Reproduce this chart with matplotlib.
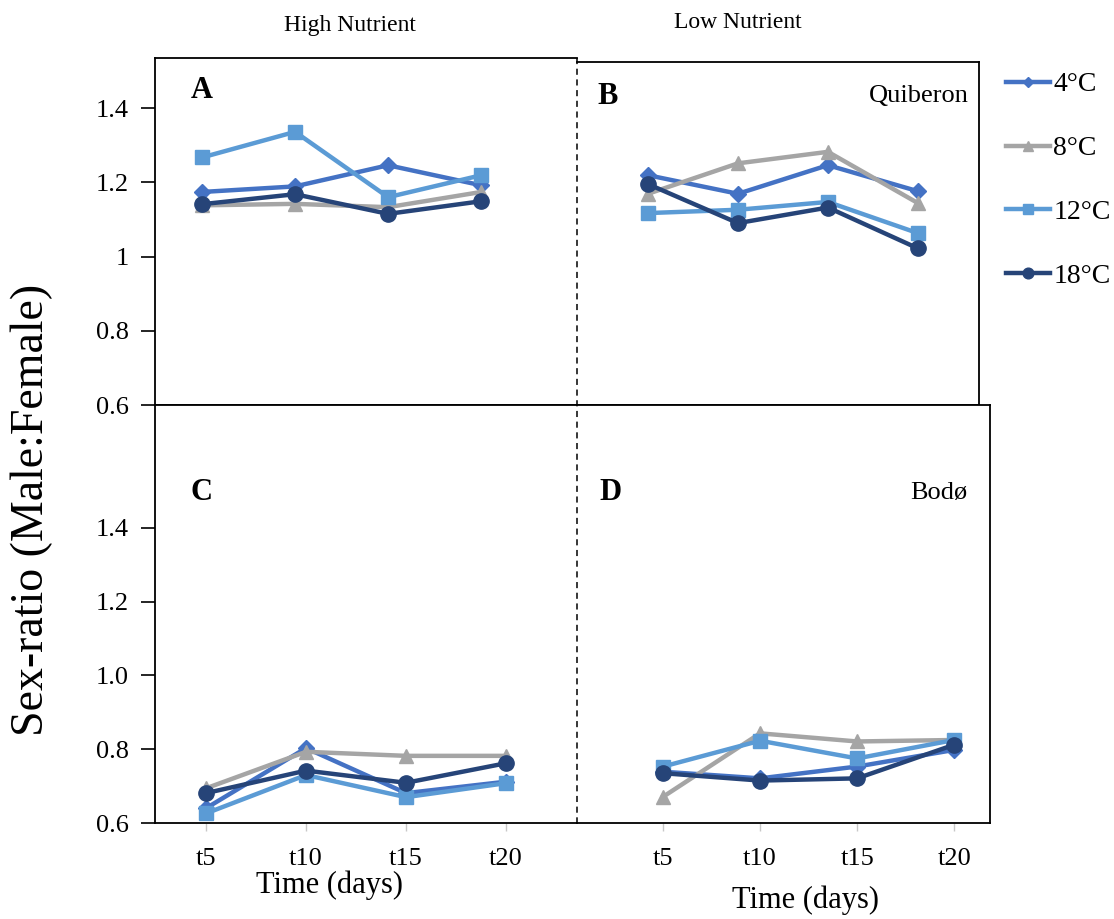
import matplotlib
matplotlib.use('Agg')
import matplotlib.pyplot as plt
from matplotlib.lines import Line2D

plt.rcParams['font.family'] = ['Liberation Serif', 'DejaVu Serif']

times = ['t5', 't10', 't15', 't20']
temps = ['4°C', '8°C', '12°C', '18°C']
colors = ['#4472C4', '#A5A5A5', '#5B9BD5', '#264478']
markers = ['D', '^', 's', 'o']
msizes = [8, 10, 10, 11]

# sex ratio per panel, rows = 4, 8, 12, 18 C
panel_a = [[1.174, 1.189, 1.246, 1.192],
           [1.138, 1.142, 1.133, 1.174],
           [1.267, 1.336, 1.160, 1.219],
           [1.141, 1.168, 1.115, 1.149]]
panel_b = [[1.219, 1.169, 1.246, 1.176],
           [1.169, 1.251, 1.282, 1.144],
           [1.117, 1.126, 1.147, 1.063],
           [1.195, 1.090, 1.132, 1.022]]
panel_c = [[0.640, 0.803, 0.681, 0.712],
           [0.694, 0.793, 0.782, 0.782],
           [0.626, 0.730, 0.670, 0.708],
           [0.681, 0.742, 0.709, 0.762]]
panel_d = [[0.739, 0.721, 0.753, 0.798],
           [0.671, 0.843, 0.821, 0.825],
           [0.753, 0.823, 0.775, 0.825],
           [0.735, 0.715, 0.721, 0.812]]

W, H = 1114, 919
fig = plt.figure(figsize=(W / 100, H / 100), dpi=100)


def px_axes(left, top, right, bottom):
    return fig.add_axes([left / W, 1 - bottom / H, (right - left) / W, (bottom - top) / H])


def draw(ax, data):
    lines = []
    for i in range(4):
        ln, = ax.plot(range(4), data[i], color=colors[i], marker=markers[i],
                      markersize=msizes[i], linewidth=3.2, zorder=3 + (i == 3))
        lines.append(ln)
    ax.set_xticks(range(4))
    ax.tick_params(axis='x', colors='#c8c8c8', length=6, width=1, labelcolor='black',
                   labelsize=19, pad=12)
    for s in ax.spines.values():
        s.set_linewidth(1.3)
    return lines


# panels placed to match the original composite
ax_a = px_axes(155, 58, 577, 405)
ax_b = px_axes(577, 62, 979, 405)
ax_c = px_axes(155, 405, 577, 823)
ax_d = px_axes(577, 405, 990, 823)

handles = draw(ax_a, panel_a)
draw(ax_b, panel_b)
draw(ax_c, panel_c)
draw(ax_d, panel_d)

ax_a.set_xlim(-0.505, 4.03)
ax_b.set_xlim(-0.79, 3.68)
ax_c.set_xlim(-0.51, 3.71)
ax_d.set_xlim(-0.887, 3.37)

ax_a.set_ylim(0.6, 1.535)
ax_b.set_ylim(0.6, 1.524)
ax_c.set_ylim(0.6, 1.733)
ax_d.set_ylim(0.6, 1.733)

ax_a.set_yticks([0.6, 0.8, 1.0, 1.2, 1.4])
ax_a.set_yticklabels(['0.6', '0.8', '1', '1.2', '1.4'])
ax_c.set_yticks([0.6, 0.8, 1.0, 1.2, 1.4])
ax_c.set_yticklabels(['0.6', '0.8', '1.0', '1.2', '1.4'])
for ax in (ax_a, ax_c):
    ax.tick_params(axis='y', length=10, width=1.2, labelsize=19, pad=9)
for ax in (ax_b, ax_d):
    ax.set_yticks([])

for ax in (ax_a, ax_b):
    ax.set_xticklabels([])
ax_c.set_xticklabels(times)
ax_d.set_xticklabels(times)

ax_a.spines['right'].set_visible(False)
ax_c.spines['right'].set_visible(False)
ax_b.spines['left'].set_visible(False)
ax_d.spines['left'].set_visible(False)

# dashed divider between nutrient columns
fig.add_artist(Line2D([577 / W, 577 / W], [1 - 58 / H, 1 - 823 / H], color='black',
                      linestyle=(0, (4, 3)), linewidth=1.1))

# panel letters and site names
for ax, letter, x, y in [(ax_a, 'A', 0.085, 0.905), (ax_b, 'B', 0.05, 0.9),
                         (ax_c, 'C', 0.085, 0.79), (ax_d, 'D', 0.055, 0.79)]:
    ax.text(x, y, letter, transform=ax.transAxes, fontsize=22, fontweight='bold', va='center')
ax_b.text(0.975, 0.9, 'Quiberon', transform=ax_b.transAxes, fontsize=19, ha='right', va='center')
ax_d.text(0.945, 0.79, 'Bodø', transform=ax_d.transAxes, fontsize=19, ha='right', va='center')

fig.text(350 / W, 1 - 25 / H, 'High Nutrient', fontsize=17, ha='center', va='center')
fig.text(738 / W, 1 - 22 / H, 'Low Nutrient', fontsize=17, ha='center', va='center')
fig.text(330 / W, 1 - 885 / H, 'Time (days)', fontsize=22, ha='center', va='center')
fig.text(805 / W, 1 - 900 / H, 'Time (days)', fontsize=22, ha='center', va='center')
fig.text(32 / W, 1 - 510 / H, 'Sex-ratio (Male:Female)', fontsize=33, rotation=90,
         ha='center', va='center')

fig.legend(handles, temps, loc='upper left', bbox_to_anchor=(1006 / W, 1 - 72 / H),
           frameon=False, fontsize=20, labelspacing=1.38, handlelength=1.6,
           handletextpad=0.1, borderpad=0, borderaxespad=0, markerscale=0.7)

fig.savefig('out.png', dpi=100)
